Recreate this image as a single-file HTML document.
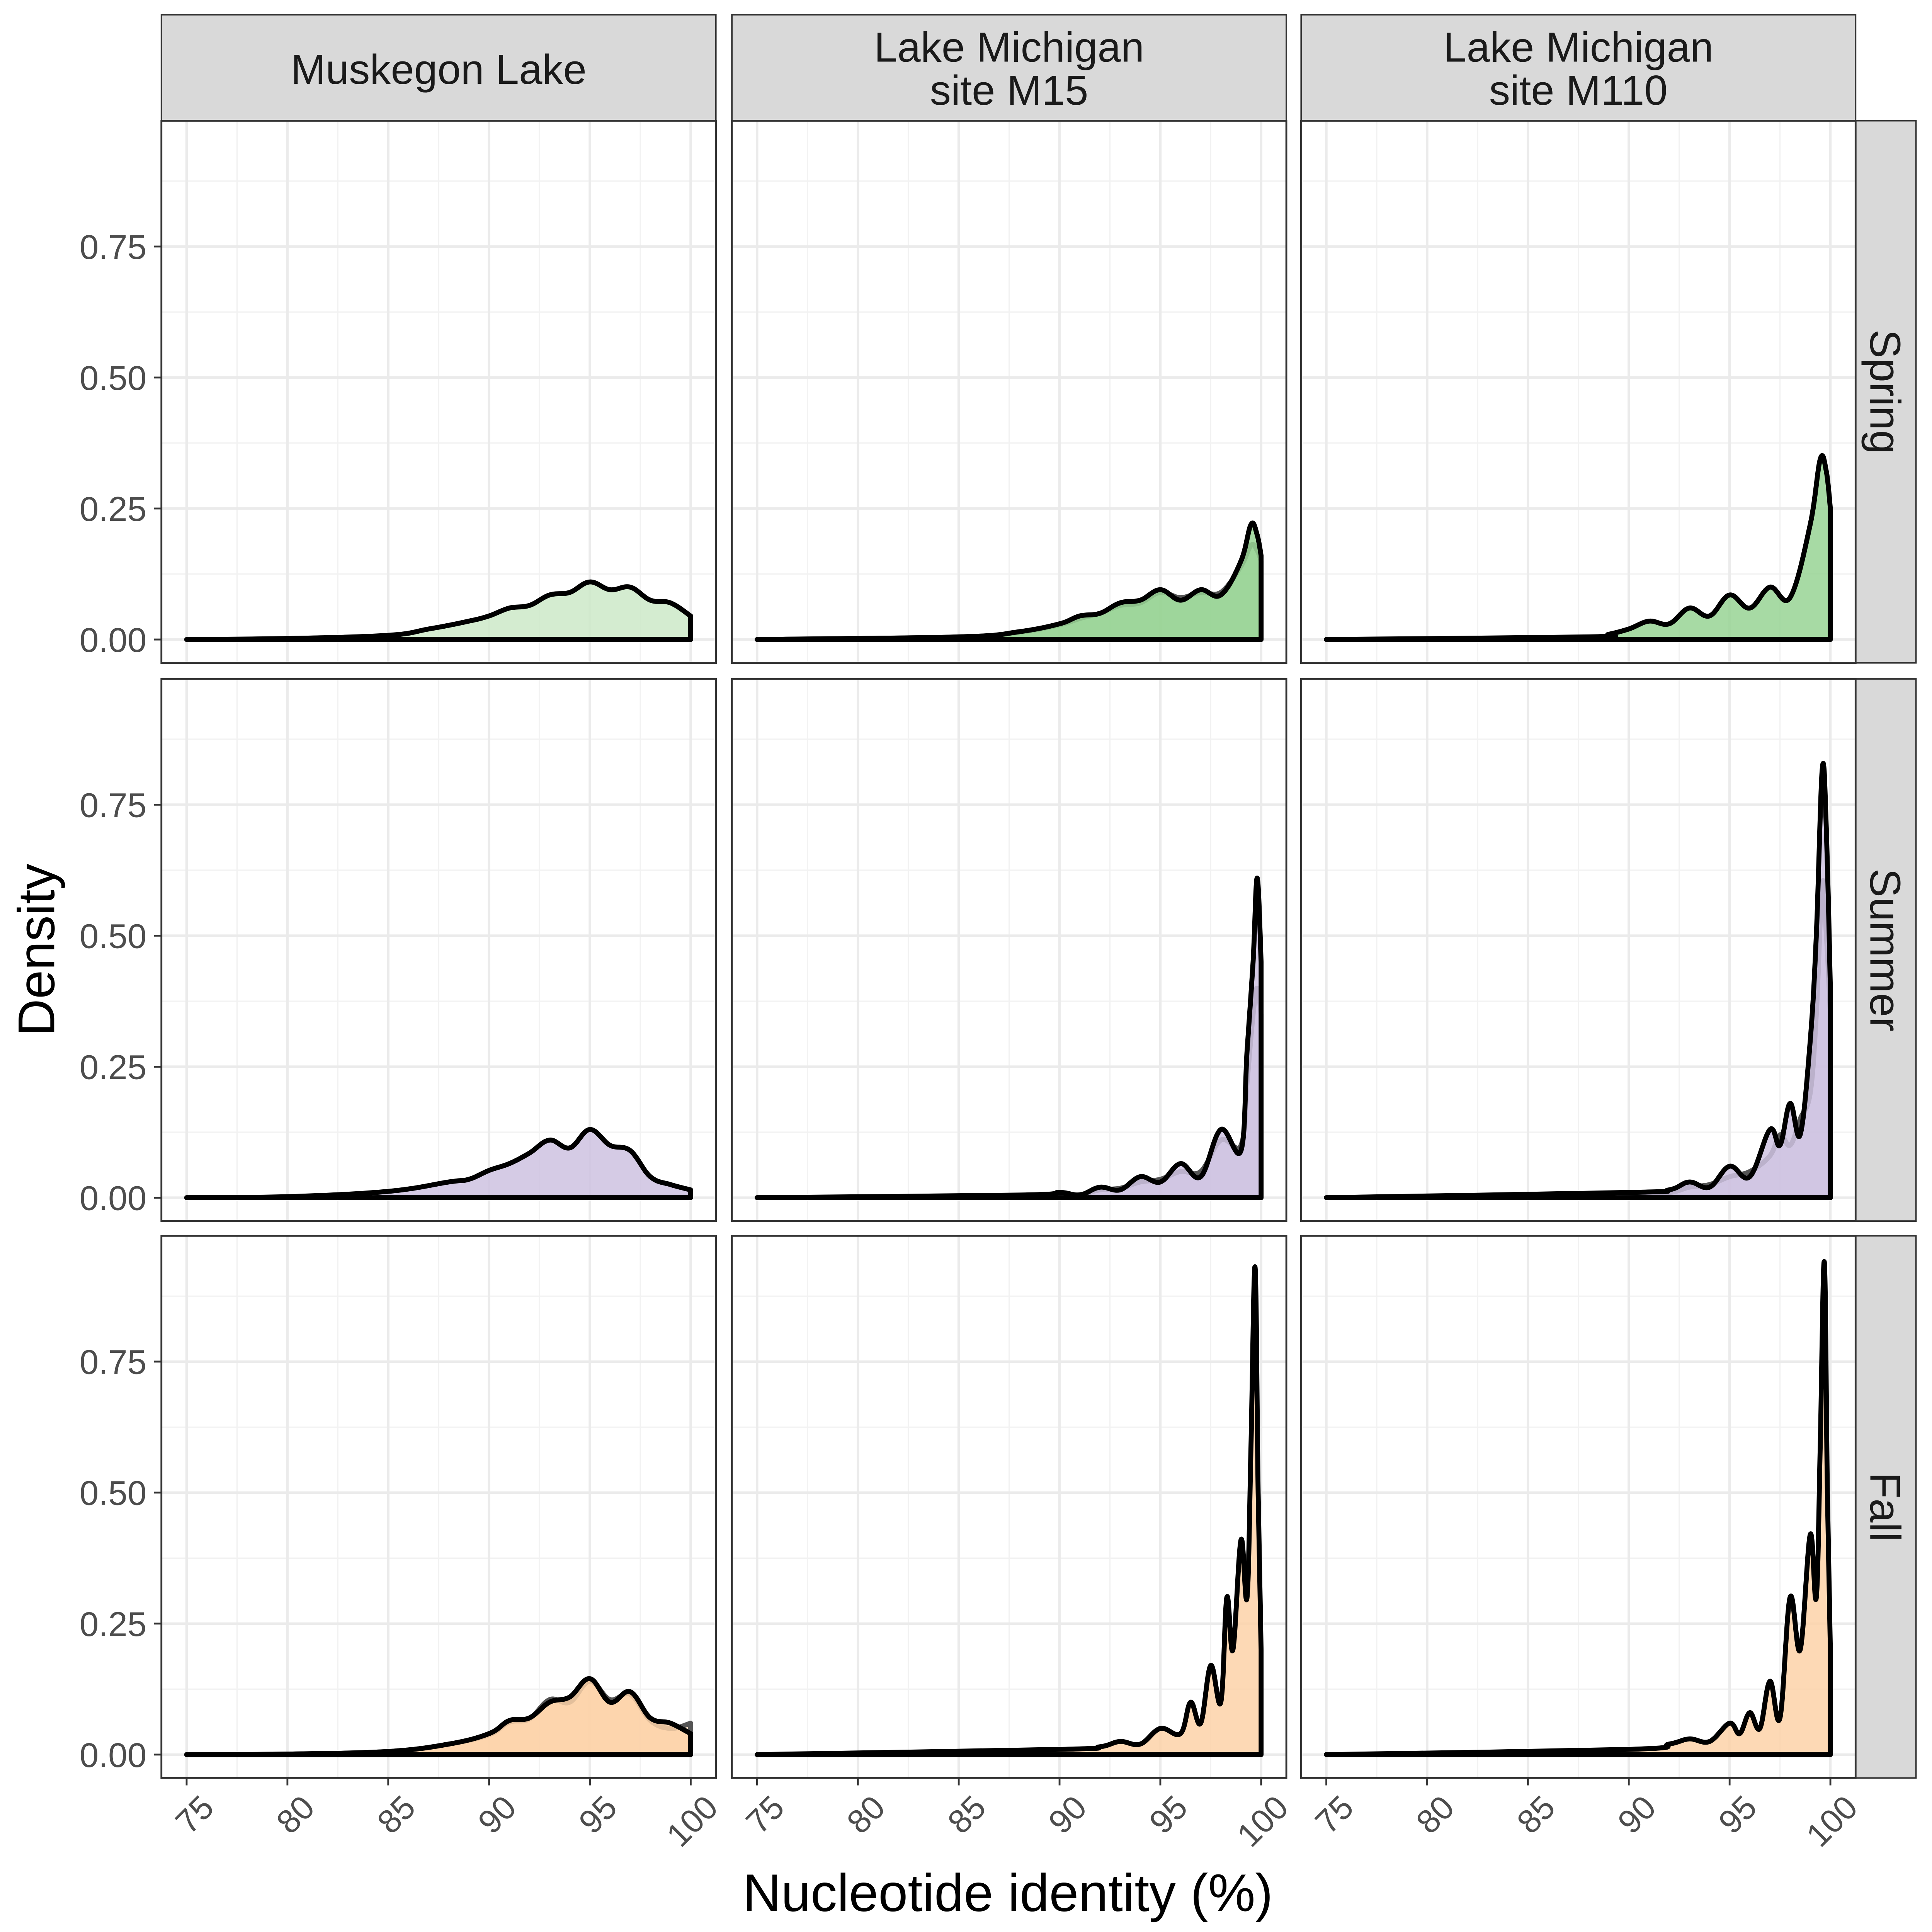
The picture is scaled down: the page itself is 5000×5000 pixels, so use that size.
<!DOCTYPE html>
<html><head><meta charset="utf-8"><style>
html,body{margin:0;padding:0;background:#fff;}
svg{display:block;font-family:"Liberation Sans",sans-serif;}
</style></head>
<body>
<svg id="chart" width="5000" height="5000" viewBox="0 0 1568 1568" xmlns="http://www.w3.org/2000/svg"></svg>
<script>
const columns = ["Muskegon Lake", "Lake Michigan|site M15", "Lake Michigan|site M110"];
const rows = ["Spring", "Summer", "Fall"];
const xTicks = [75, 80, 85, 90, 95, 100];
const yTicks = [0, 0.25, 0.5, 0.75];
const yTickLabels = ["0.00", "0.25", "0.50", "0.75"];
const fills = [["#cde9c8", "#98d394", "#98d394"], ["#cec2e1", "#cec2e1", "#cec2e1"], ["#fdd2a8", "#fdd2a8", "#fdd2a8"]];

const muskSpringX = [75,80,85,87,89,90,91,92,93,94,95,96,97,98,99,100];
const muskSpringY = [0,0.002,0.008,0.02,0.035,0.045,0.06,0.065,0.085,0.09,0.11,0.095,0.1,0.075,0.07,0.045];
const muskSummerX = [75,80,85,88,89,90,91,92,93,94,95,96,97,98,99,100];
const muskSummerY = [0,0.002,0.012,0.03,0.035,0.052,0.065,0.085,0.11,0.095,0.13,0.1,0.09,0.04,0.025,0.015];
const muskFallX = [75,80,85,88,90,91,92,93,94,95,96,97,98,99,100];
const muskFallY = [0,0.001,0.006,0.02,0.04,0.065,0.07,0.1,0.11,0.145,0.1,0.12,0.07,0.06,0.04];
const muskFallY2 = [0,0.001,0.006,0.02,0.038,0.062,0.068,0.105,0.1,0.14,0.105,0.115,0.065,0.05,0.06];
const m15SpringX = [75,85,88,90,91,92,93,94,95,96,97,98,99,99.5,99.8,100];
const m15SpringY = [0,0.005,0.015,0.03,0.045,0.05,0.07,0.075,0.095,0.075,0.095,0.085,0.15,0.22,0.2,0.16];
const m15SpringY2 = [0,0.005,0.014,0.028,0.04,0.05,0.065,0.07,0.09,0.08,0.09,0.09,0.14,0.18,0.17,0.15];
const m110SpringX = [75,88,89,90,91,92,93,94,95,96,97,98,99,99.5,99.8,100];
const m110SpringY = [0,0.005,0.01,0.02,0.035,0.03,0.06,0.045,0.085,0.06,0.1,0.08,0.22,0.345,0.32,0.25];
const m15SummerX = [75,88,90,91,92,93,94,95,96,97,98,99,99.3,99.6,99.8,100];
const m15SummerY = [0,0.005,0.01,0.005,0.02,0.015,0.04,0.03,0.065,0.04,0.13,0.09,0.28,0.45,0.61,0.45];
const m15SummerY2 = [0,0.004,0.008,0.006,0.015,0.018,0.03,0.035,0.05,0.05,0.11,0.1,0.22,0.35,0.4,0.35];
const m110SummerX = [75,90,92,93,94,95,96,97,97.5,98,98.5,99,99.3,99.6,99.8,100];
const m110SummerY = [0,0.01,0.015,0.03,0.02,0.06,0.04,0.13,0.1,0.18,0.12,0.3,0.5,0.82,0.7,0.4];
const m110SummerY2 = [0,0.008,0.01,0.02,0.025,0.04,0.05,0.08,0.12,0.1,0.15,0.2,0.35,0.6,0.5,0.35];
const m15FallX = [75,90,92,93,94,95,96,96.5,97,97.5,98,98.3,98.6,99,99.3,99.5,99.7,99.85,100];
const m15FallY = [0,0.01,0.015,0.025,0.02,0.05,0.04,0.1,0.06,0.17,0.1,0.3,0.2,0.41,0.3,0.6,0.93,0.5,0.2];
const m110FallX = [75,90,92,93,94,95,95.5,96,96.5,97,97.5,98,98.5,99,99.3,99.5,99.7,99.85,100];
const m110FallY = [0,0.01,0.02,0.03,0.025,0.06,0.04,0.08,0.05,0.14,0.07,0.3,0.2,0.42,0.3,0.6,0.94,0.5,0.2];

const series = [
 [[{x:muskSpringX,y:muskSpringY}], [{x:m15SpringX,y:m15SpringY2},{x:m15SpringX,y:m15SpringY}], [{x:m110SpringX,y:m110SpringY}]],
 [[{x:muskSummerX,y:muskSummerY}], [{x:m15SummerX,y:m15SummerY2},{x:m15SummerX,y:m15SummerY}], [{x:m110SummerX,y:m110SummerY2},{x:m110SummerX,y:m110SummerY}]],
 [[{x:muskFallX,y:muskFallY2},{x:muskFallX,y:muskFallY}], [{x:m15FallX,y:m15FallY}], [{x:m110FallX,y:m110FallY}]]
];

const NS = "http://www.w3.org/2000/svg";
const svg = document.getElementById("chart");
function mk(tag, attrs, parent) {
  const e = document.createElementNS(NS, tag);
  for (const k in attrs) e.setAttribute(k, attrs[k]);
  (parent || svg).appendChild(e);
  return e;
}
const colX = [131, 594, 1056], panelW = 450;
const rowY = [98, 551, 1003], panelH = 440;
const xDom = [73.75, 101.25];
const yDom = [-0.0446, 0.9900];
function sx(c, v) { return colX[c] + (v - xDom[0]) / (xDom[1] - xDom[0]) * panelW; }
function sy(r, v) { return rowY[r] + panelH - (v - yDom[0]) / (yDom[1] - yDom[0]) * panelH; }
function smooth(pts, base) {
  let d = "";
  for (let i = 0; i < pts.length - 1; i++) {
    const p0 = pts[Math.max(0, i - 1)], p1 = pts[i], p2 = pts[i + 1], p3 = pts[Math.min(pts.length - 1, i + 2)];
    const t = 0.18;
    const c1x = p1[0] + (p2[0] - p0[0]) * t, c1y = Math.min(base, p1[1] + (p2[1] - p0[1]) * t);
    const c2x = p2[0] - (p3[0] - p1[0]) * t, c2y = Math.min(base, p2[1] - (p3[1] - p1[1]) * t);
    d += ` C${c1x.toFixed(1)},${c1y.toFixed(1)} ${c2x.toFixed(1)},${c2y.toFixed(1)} ${p2[0].toFixed(1)},${p2[1].toFixed(1)}`;
  }
  return d;
}

columns.forEach((name, c) => {
  const g = mk("g", {});
  
  
  mk("rect", {x: colX[c], y: 12, width: panelW, height: 86, fill: "#d9d9d9", stroke: "#333", "stroke-width": 1.2}, g);
  const lines = name.split("|");
  lines.forEach((ln, i) => {
    const t = mk("text", {x: colX[c] + panelW / 2, y: (lines.length === 1 ? 68 : 50 + i * 35), "text-anchor": "middle", "font-size": 34, fill: "#1a1a1a"}, g);
    t.textContent = ln;
  });
});
rows.forEach((name, r) => {
  const g = mk("g", {});
  
  
  mk("rect", {x: 1506, y: rowY[r], width: 49, height: panelH, fill: "#d9d9d9", stroke: "#333", "stroke-width": 1.2}, g);
  const cx = 1530, cy = rowY[r] + panelH / 2;
  const t = mk("text", {x: cx, y: cy, "text-anchor": "middle", "dominant-baseline": "central", "font-size": 35, fill: "#1a1a1a", transform: `rotate(90 ${cx} ${cy})`}, g);
  t.textContent = name;
});

for (let r = 0; r < 3; r++) for (let c = 0; c < 3; c++) {
  const g = mk("g", {});
  
  
  const clipId = "clip" + r + c;
  const cp = mk("clipPath", {id: clipId}, g);
  mk("rect", {x: colX[c], y: rowY[r], width: panelW, height: panelH}, cp);
  for (let i = 0; i < xTicks.length - 1; i++) {
    const v = (xTicks[i] + xTicks[i + 1]) / 2;
    mk("line", {x1: sx(c, v), x2: sx(c, v), y1: rowY[r], y2: rowY[r] + panelH, stroke: "#f2f2f2", "stroke-width": 1}, g);
  }
  for (let i = 0; i < yTicks.length; i++) {
    const v = yTicks[i] + 0.125;
    mk("line", {x1: colX[c], x2: colX[c] + panelW, y1: sy(r, v), y2: sy(r, v), stroke: "#f2f2f2", "stroke-width": 1}, g);
  }
  xTicks.forEach(v => mk("line", {x1: sx(c, v), x2: sx(c, v), y1: rowY[r], y2: rowY[r] + panelH, stroke: "#ebebeb", "stroke-width": 2}, g));
  yTicks.forEach(v => mk("line", {x1: colX[c], x2: colX[c] + panelW, y1: sy(r, v), y2: sy(r, v), stroke: "#ebebeb", "stroke-width": 2}, g));
  const dg = mk("g", {"clip-path": `url(#${clipId})`}, g);
  const base = sy(r, 0);
  series[r][c].forEach((s, k) => {
    const pts = s.x.map((xv, i) => [sx(c, xv), sy(r, s.y[i])]);
    let d = "M" + pts[0][0].toFixed(1) + "," + pts[0][1].toFixed(1) + smooth(pts, base);
    d += " L" + sx(c, s.x[s.x.length - 1]).toFixed(1) + "," + base.toFixed(1) + " L" + pts[0][0].toFixed(1) + "," + base.toFixed(1) + " Z";
    const multi = series[r][c].length > 1 && k === 0;
    const p = mk("path", {d: d, fill: fills[r][c], "fill-opacity": multi ? 0.6 : 0.85, stroke: multi ? "#555" : "#000", "stroke-width": 4, "stroke-linejoin": "round"}, dg);
    
    
  });
  mk("rect", {x: colX[c], y: rowY[r], width: panelW, height: panelH, fill: "none", stroke: "#333", "stroke-width": 1.5}, g);
  if (c === 0) yTicks.forEach((v, i) => {
    mk("line", {x1: colX[c] - 6, x2: colX[c], y1: sy(r, v), y2: sy(r, v), stroke: "#333", "stroke-width": 1.5}, g);
    const t = mk("text", {x: 119, y: sy(r, v) + 10, "text-anchor": "end", "font-size": 28, fill: "#4d4d4d"}, g);
    t.textContent = yTickLabels[i];
  });
  if (r === 2) xTicks.forEach(v => {
    const x = sx(c, v), y = rowY[r] + panelH;
    mk("line", {x1: x, x2: x, y1: y, y2: y + 6, stroke: "#333", "stroke-width": 1.5}, g);
    const tx = x + 10, ty = y + 12;
    const t = mk("text", {x: tx, y: ty, "text-anchor": "end", "dominant-baseline": "hanging", "font-size": 27, fill: "#4d4d4d", transform: `rotate(-45 ${tx} ${ty})`}, g);
    t.textContent = v;
  });
}
const yt = mk("text", {x: 44, y: 771, "text-anchor": "middle", "font-size": 42, fill: "#000", transform: "rotate(-90 44 771)"});


yt.textContent = "Density";
const xt = mk("text", {x: 818, y: 1551, "text-anchor": "middle", "font-size": 43, fill: "#000"});


xt.textContent = "Nucleotide identity (%)";
</script>
</body></html>
